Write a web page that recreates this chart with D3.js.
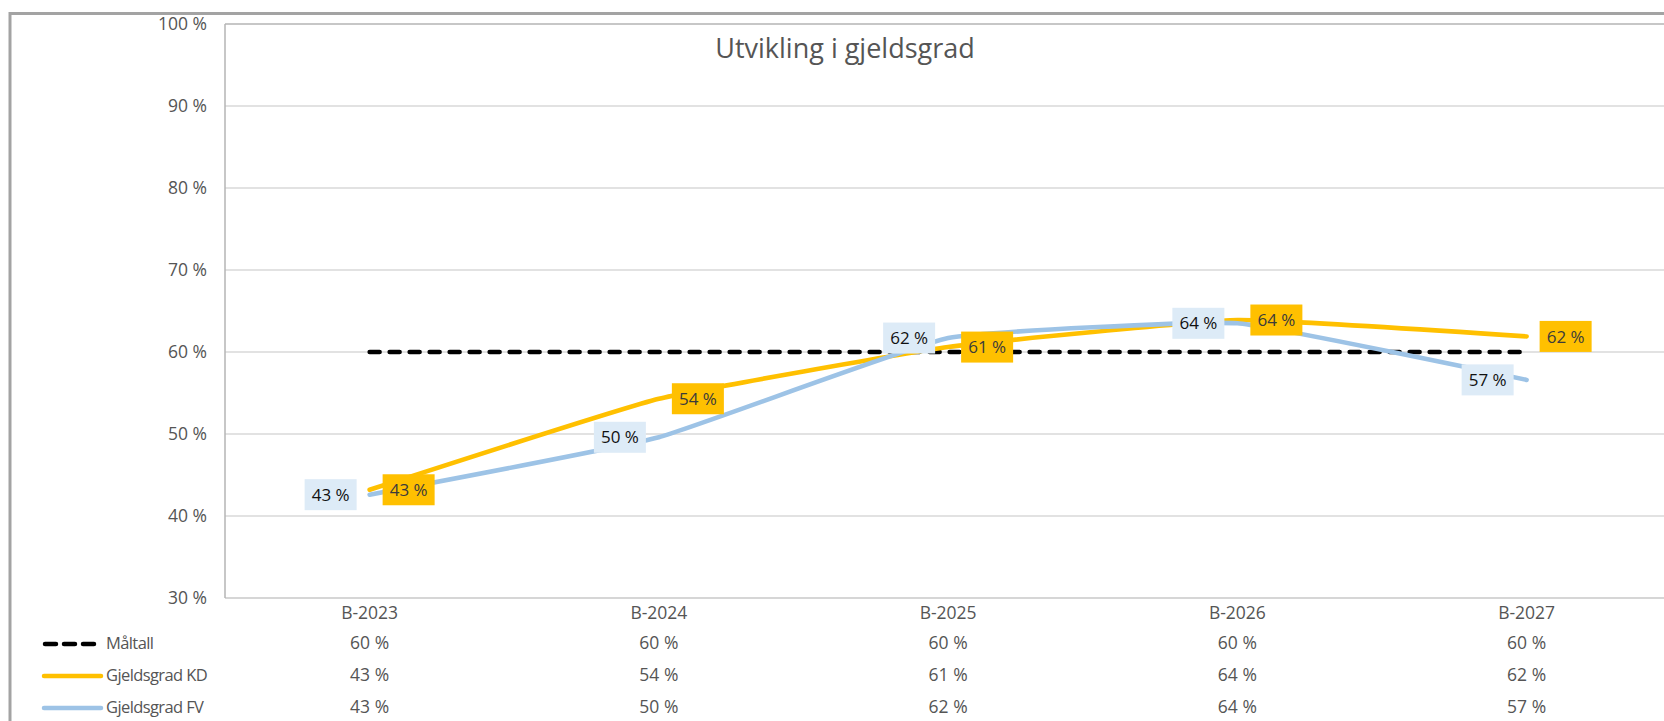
<!DOCTYPE html>
<html>
<head>
<meta charset="utf-8">
<script src="https://cdn.jsdelivr.net/npm/d3@7"></script>
<style>
  html, body { margin: 0; padding: 0; background: #fff; }
  svg { display: block; font-family: "Open Sans", sans-serif; }
</style>
</head>
<body>
<svg id="chart" width="1664" height="721"></svg>
<script>
// ---- data ----
const categories = ["B-2023", "B-2024", "B-2025", "B-2026", "B-2027"];
const seriesNames = ["Måltall", "Gjeldsgrad KD", "Gjeldsgrad FV"];
const maltall = [60, 60, 60, 60, 60];
const gjeldKD = [43.2, 54.3, 60.6, 63.9, 61.9];
const gjeldFV = [42.6, 49.6, 61.7, 63.5, 56.6];
const yTicks = [30, 40, 50, 60, 70, 80, 90, 100];
const title = "Utvikling i gjeldsgrad";

// ---- layout ----
const svg = d3.select("#chart");
const plot = { left: 225, top: 24, bottom: 598, band: 289.25 };
const x = d3.scaleBand().domain(categories)
  .range([plot.left, plot.left + plot.band * categories.length]);
const y = d3.scaleLinear().domain([30, 100]).range([plot.bottom, plot.top]);
const cx = c => x(c) + x.bandwidth() / 2;
const fmt = v => Math.round(v) + " %";

const grey = "#555555";

// outer chart border
svg.append("rect")
  .attr("x", 10).attr("y", 13.5).attr("width", 1700).attr("height", 800)
  .attr("fill", "none").attr("stroke", "#a3a3a3").attr("stroke-width", 3);

// gridlines
svg.append("g").selectAll("line").data(yTicks.filter(t => t !== 100 && t !== 30)).join("line")
  .attr("x1", plot.left).attr("x2", 1700)
  .attr("y1", d => y(d)).attr("y2", d => y(d))
  .attr("stroke", "#d9d9d9").attr("stroke-width", 1.3);

// plot frame (top, left, bottom)
svg.append("line").attr("x1", plot.left).attr("x2", 1700)
  .attr("y1", y(100)).attr("y2", y(100)).attr("stroke", "#b5b5b5").attr("stroke-width", 1.5);
svg.append("line").attr("x1", plot.left).attr("x2", 1700)
  .attr("y1", y(30)).attr("y2", y(30)).attr("stroke", "#c8c8c8").attr("stroke-width", 1.5);
svg.append("line").attr("x1", plot.left).attr("x2", plot.left)
  .attr("y1", y(100)).attr("y2", y(30)).attr("stroke", "#b5b5b5").attr("stroke-width", 1.5);

// y axis labels
const yAxis = d3.axisLeft(y).tickValues(yTicks).tickFormat(d => d + " %").tickSize(0).tickPadding(18);
const ya = svg.append("g").attr("transform", `translate(${plot.left},0)`).call(yAxis);
ya.select(".domain").remove();
ya.selectAll("text").attr("fill", grey).attr("font-size", 17.5)
  .attr("font-family", "Open Sans, sans-serif");

// title
svg.append("text").attr("x", 845).attr("y", 58).attr("text-anchor", "middle")
  .attr("fill", grey).attr("font-size", 27).text(title);

// lines
const line = d3.line().x((d, i) => cx(categories[i])).y(d => y(d));
const smooth = d3.line().x((d, i) => cx(categories[i])).y(d => y(d))
  .curve(d3.curveCardinal.tension(0.65));

svg.append("path").datum(maltall).attr("d", line)
  .attr("fill", "none").attr("stroke", "#000").attr("stroke-width", 4.5)
  .attr("stroke-dasharray", "10,10").attr("stroke-linecap", "round");
svg.append("path").datum(gjeldKD).attr("d", smooth)
  .attr("fill", "none").attr("stroke", "#FFC000").attr("stroke-width", 4.6)
  .attr("stroke-linecap", "round");
svg.append("path").datum(gjeldFV).attr("d", smooth)
  .attr("fill", "none").attr("stroke", "#9DC3E6").attr("stroke-width", 4.6)
  .attr("stroke-linecap", "round");

// data labels
const boxW = 52, boxH = 31;
function labels(data, side, fill, textFill) {
  const g = svg.append("g").selectAll("g").data(data).join("g")
    .attr("transform", (d, i) => {
      const px = cx(categories[i]);
      const bx = side === "right" ? px + 13 : px - 13 - boxW;
      return `translate(${bx},${y(d) - boxH / 2})`;
    });
  g.append("rect").attr("width", boxW).attr("height", boxH).attr("fill", fill);
  g.append("text").attr("x", boxW / 2).attr("y", boxH / 2).attr("dy", "0.36em")
    .attr("text-anchor", "middle").attr("font-size", 17).attr("fill", textFill)
    .text(d => fmt(d));
}
labels(gjeldFV, "left", "#DDEBF7", "#111");
labels(gjeldKD, "right", "#FFC000", "#3b3b3b");

// category labels
svg.append("g").selectAll("text").data(categories).join("text")
  .attr("x", d => cx(d)).attr("y", 613).attr("dy", "0.36em")
  .attr("text-anchor", "middle").attr("font-size", 17.5).attr("fill", grey)
  .text(d => d);

// data table
const rows = [maltall, gjeldKD, gjeldFV];
const rowY = [643, 675, 707];
rows.forEach((vals, r) => {
  svg.append("g").selectAll("text").data(vals).join("text")
    .attr("x", (d, i) => cx(categories[i])).attr("y", rowY[r]).attr("dy", "0.36em")
    .attr("text-anchor", "middle").attr("font-size", 17.5).attr("fill", grey)
    .text(d => fmt(d));
});

// legend keys
const keyStyles = [
  { stroke: "#000", dash: "11,8", x2: 95 },
  { stroke: "#FFC000", dash: null, x2: 101 },
  { stroke: "#9DC3E6", dash: null, x2: 101 }
];
seriesNames.forEach((name, r) => {
  const k = keyStyles[r];
  const ln = svg.append("line").attr("x1", k.dash ? 45 : 44).attr("x2", k.x2)
    .attr("y1", rowY[r] + 1).attr("y2", rowY[r] + 1)
    .attr("stroke", k.stroke).attr("stroke-width", 4.5).attr("stroke-linecap", "round");
  if (k.dash) ln.attr("stroke-dasharray", k.dash);
  svg.append("text").attr("x", 106).attr("y", rowY[r]).attr("dy", "0.36em")
    .attr("font-size", 16.5).attr("fill", grey).attr("letter-spacing", -0.6).text(name);
});
</script>
</body>
</html>
